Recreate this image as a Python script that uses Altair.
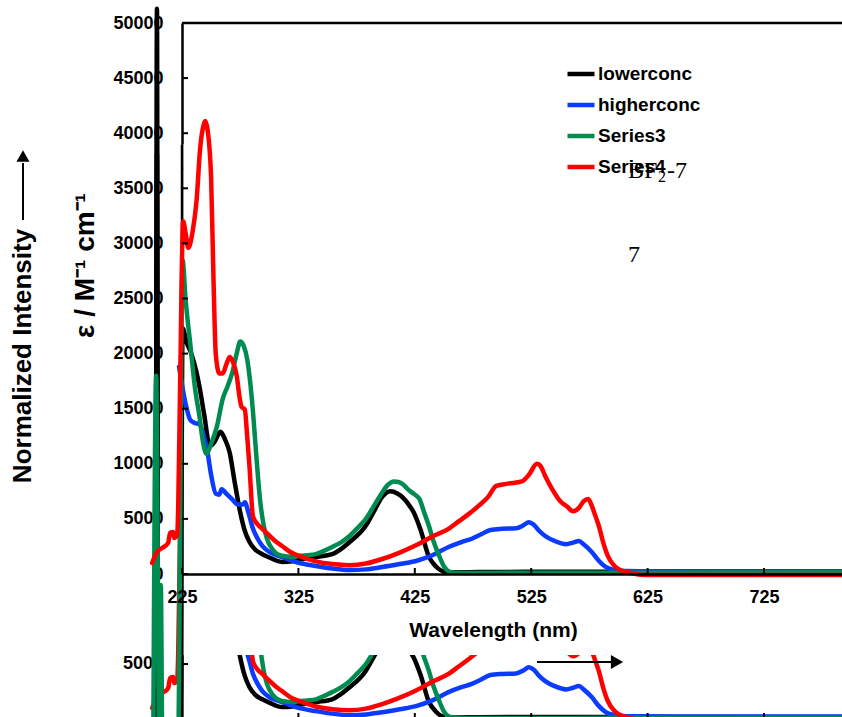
import altair as alt
import pandas as pd

# ---------------- data ----------------
series_names = ["lowerconc", "higherconc", "Series3", "Series4"]
series_colors = ["#000000", "#0A3BFF", "#008C50", "#FF0000"]

black_wl = [202.5, 203.5, 204.5, 223.5, 225.5, 229, 233, 237, 240, 244, 249, 253, 258, 262, 266, 270,
            275, 279, 283, 288, 294, 300, 311, 320, 326, 340, 354, 369, 383, 390, 397, 404, 410, 415,
            419, 424, 430, 437, 443, 451, 460, 480, 550, 650, 792]
black_v = [-16000, 51300, -16000, -16000, 22300, 21000, 20000, 18500, 17000, 14500, 11600, 12000, 12900,
           12200, 11000, 8500, 5600, 3900, 2900, 2200, 1800, 1500, 1100, 1150, 1300, 1550, 1800, 2900,
           4400, 5700, 7000, 7500, 7300, 6900, 6400, 5600, 4000, 1600, 700, 200, 150, 180, 200, 200, 200]

blue_wl = [222.5, 228, 232, 236, 240, 243, 247, 250, 254, 257, 259, 263, 268, 273, 277, 279, 282, 286,
           290, 294, 300, 311, 326, 340, 354, 369, 383, 397, 412, 426, 440, 454, 465, 474, 482, 490,
           500, 512, 518, 523, 527, 532, 537, 545, 555, 561, 566, 570, 577, 583, 589, 595, 606, 650, 792]
blue_v = [18800, 15500, 14000, 13700, 13600, 12800, 11000, 9000, 7300, 7200, 7700, 7300, 6800, 6300,
          6300, 6500, 5600, 4100, 3200, 2550, 2000, 1540, 1000, 730, 500, 360, 420, 630, 900, 1180,
          1700, 2450, 2900, 3200, 3600, 4000, 4100, 4150, 4400, 4700, 4500, 3900, 3450, 3000, 2700,
          2850, 3000, 2700, 2000, 1200, 640, 400, 270, 250, 250]

green_wl = [200.3, 202.8, 205.5, 206.8, 208.2, 221.5, 225.5, 228, 232, 236, 240, 243, 246, 250, 255, 260,
            264, 268, 272, 275, 278, 281, 284, 286, 289, 292, 295, 298, 303, 311, 320, 326, 333, 340,
            347, 354, 362, 369, 376, 383, 390, 397, 402, 407, 411, 414, 420, 425, 429, 433, 437, 441,
            446, 450, 454, 460, 480, 600, 792]
green_v = [-16000, 18000, -16000, -1000, -16000, -16000, 28500, 25000, 21000, 17000, 14300, 12000,
           10900, 11800, 13400, 15900, 17000, 18200, 20000, 21100, 20700, 19500, 17000, 14700, 10500,
           6800, 4500, 3200, 2200, 1650, 1550, 1650, 1700, 1800, 2100, 2450, 2900, 3450, 4200, 5000,
           6200, 7400, 8100, 8400, 8350, 8200, 7600, 7200, 6800, 5600, 4400, 3000, 1630, 700, 250,
           120, 100, 120, 150]

red_wl = [199.3, 203.6, 207.9, 213.1, 214.8, 217.4, 218.3, 220.8, 221.7, 223.5, 226, 228, 230.4, 234,
          237.6, 240.5, 243, 245, 247, 250, 252, 254, 257, 260, 263, 266, 269, 272, 274.5, 276, 279,
          281, 283, 286, 290, 294, 300, 305, 311, 318, 326, 340, 354, 369, 383, 397, 411, 426, 440,
          454, 463, 472, 480, 488, 495, 505, 517, 523, 530, 533, 537, 543, 550, 556, 561, 566, 570,
          574, 577, 580, 583, 587, 591, 596, 600, 610, 623, 792]
red_v = [1000, 2000, 2360, 2820, 3730, 3820, 3270, 3550, 5800, 18000, 32000, 31000, 29600, 31000,
         34000, 38500, 40500, 41100, 40300, 36000, 27000, 20000, 18200, 18200, 19000, 19700, 19200,
         18000, 16000, 15200, 14900, 12500, 9700, 5200, 4500, 4100, 3500, 3000, 2540, 2000, 1630, 1150,
         900, 800, 950, 1360, 1900, 2600, 3400, 4100, 4800, 5500, 6200, 7000, 8000, 8200, 8400, 9000,
         10000, 9800, 8900, 7700, 6600, 6100, 5700, 6000, 6600, 6800, 6200, 5300, 4400, 2800, 1600, 800,
         450, 100, -100, -100]

x_ticks = [225, 325, 425, 525, 625, 725]
y_ticks = [0, 5000, 10000, 15000, 20000, 25000, 30000, 35000, 40000, 45000, 50000]

rows = []
for name, wl, vals in zip(series_names,
                          [black_wl, blue_wl, green_wl, red_wl],
                          [black_v, blue_v, green_v, red_v]):
    for i, (a, b) in enumerate(zip(wl, vals)):
        rows.append({"series": name, "wl": a, "v": b, "i": i})
df = pd.DataFrame(rows)
xt = pd.DataFrame({"t": x_ticks})
yt = pd.DataFrame({"t": y_ticks})
one = pd.DataFrame({"a": [0]})

# ---------------- layout constants ----------------
W, H = 660, 551
SHIFT = 13170            # duplicated lower copy of the plot, 145 px lower
FONT = "Liberation Sans"

xs = alt.Scale(domain=[225, 792], nice=False, zero=False)
ys = alt.Scale(domain=[0, 50000], nice=False, zero=False)

xaxis = alt.Axis(values=x_ticks, title="Wavelength (nm)", ticks=False, labelPadding=14,
                 labelFlush=False, labelOverlap=False, grid=False, domainWidth=2.5,
                 domainColor="black", labelFont=FONT, labelFontWeight="bold", labelFontSize=18,
                 labelColor="black", titleFont=FONT, titleFontWeight="bold", titleFontSize=21,
                 titleColor="black", titleX=311, titleY=56, titleBaseline="middle",
                 titleAlign="center", zindex=1, format="d")
yaxis = alt.Axis(values=y_ticks, title="ε / M⁻¹ cm⁻¹", ticks=False, labelPadding=19,
                 grid=False, domainWidth=2.5, domainColor="black", labelFont=FONT,
                 labelFontWeight="bold", labelFontSize=18, labelColor="black",
                 labelBaseline="middle", titleFont=FONT, titleFontWeight="bold", titleFontSize=28,
                 titleColor="black", titleX=-97, titleY=242, titleBaseline="middle",
                 titleAlign="center", titleAngle=270, zindex=0, format="d")

color = alt.Color("series:N",
                  scale=alt.Scale(domain=series_names, range=series_colors),
                  legend=alt.Legend(title=None, orient="none", legendX=383, legendY=35,
                                    symbolType="stroke", symbolStrokeWidth=4.5, symbolSize=729,
                                    labelFont=FONT, labelFontWeight="bold", labelFontSize=19,
                                    labelColor="black", labelOffset=1, rowPadding=5))

X = alt.X("wl:Q", scale=xs, axis=xaxis)


def line_layer(name, copy=False):
    base = alt.Chart(df).transform_filter(alt.datum.series == name)
    if copy:
        base = base.transform_calculate(vc=f"datum.v - {SHIFT}")
        yenc = alt.Y("vc:Q", scale=ys, axis=yaxis)
    else:
        yenc = alt.Y("v:Q", scale=ys, axis=yaxis)
    return base.mark_line(strokeWidth=4.5, interpolate="monotone", strokeCap="round",
                          strokeJoin="round").encode(x=X, y=yenc, color=color, order="i:Q")


# lower duplicated copy
copy_lines = [line_layer(n, copy=True) for n in series_names]
copy_yaxis_line = alt.Chart(one).mark_rule(color="black", strokeWidth=2.5).encode(
    x=alt.value(0), y=alt.value(122), y2=alt.value(696))
copy_yticks = alt.Chart(yt).transform_calculate(tc=f"datum.t - {SHIFT}").mark_rule(
    color="black", strokeWidth=2).encode(y=alt.Y("tc:Q", scale=ys, axis=yaxis),
                                         x=alt.value(0), x2=alt.value(6))
copy_ylabels = alt.Chart(yt).transform_calculate(tc=f"datum.t - {SHIFT}").transform_filter(
    "datum.tc < -7000").mark_text(align="right", baseline="middle", font=FONT, fontWeight="bold",
                                  fontSize=18, color="black").encode(
    y=alt.Y("tc:Q", scale=ys, axis=yaxis), x=alt.value(-19), text="t:Q")
copy_xticks = alt.Chart(xt).mark_rule(color="black", strokeWidth=2).encode(
    x=alt.X("t:Q", scale=xs, axis=xaxis), y=alt.value(690), y2=alt.value(696))

mask = alt.Chart(one).mark_rect(color="white").encode(
    x=alt.value(1.5), x2=alt.value(668), y=alt.value(121), y2=alt.value(632))

# main plot
main_lines = [line_layer(n) for n in series_names]
frame_top = alt.Chart(one).mark_rule(color="black", strokeWidth=2.5).encode(
    x=alt.value(0), x2=alt.value(W + 5), y=alt.value(0))
yticks = alt.Chart(yt).mark_rule(color="black", strokeWidth=2).encode(
    y=alt.Y("t:Q", scale=ys, axis=yaxis), x=alt.value(0), x2=alt.value(6))
xticks = alt.Chart(xt).mark_rule(color="black", strokeWidth=2).encode(
    x=alt.X("t:Q", scale=xs, axis=xaxis), y=alt.value(H), y2=alt.value(H - 6))

norm_text = alt.Chart(one).mark_text(text="Normalized Intensity", angle=270, align="center",
                                     baseline="middle", font=FONT, fontWeight="bold",
                                     fontSize=26, color="black").encode(
    x=alt.value(-159), y=alt.value(333))
norm_shaft = alt.Chart(one).mark_rule(color="black", strokeWidth=2).encode(
    x=alt.value(-159), y=alt.value(197), y2=alt.value(140))
norm_head = alt.Chart(one).mark_point(shape="triangle-up", filled=True, color="black", size=170,
                                      opacity=1).encode(x=alt.value(-159), y=alt.value(133))

wl_shaft = alt.Chart(one).mark_rule(color="black", strokeWidth=2).encode(
    x=alt.value(355), x2=alt.value(430), y=alt.value(639))
wl_head = alt.Chart(one).mark_point(shape="triangle-right", filled=True, color="black", size=200,
                                    opacity=1).encode(x=alt.value(435), y=alt.value(639))

serif = "Liberation Serif"
bf_text = alt.Chart(one).mark_text(text="BF", align="left", baseline="alphabetic", font=serif,
                                   fontSize=24, color="black").encode(
    x=alt.value(446), y=alt.value(155))
bf_sub = alt.Chart(one).mark_text(text="2", align="left", baseline="alphabetic", font=serif,
                                  fontSize=16, color="black").encode(
    x=alt.value(476), y=alt.value(159))
bf_tail = alt.Chart(one).mark_text(text="-7", align="left", baseline="alphabetic", font=serif,
                                   fontSize=24, color="black").encode(
    x=alt.value(485), y=alt.value(155))
seven = alt.Chart(one).mark_text(text="7", align="left", baseline="alphabetic", font=serif,
                                 fontSize=24, color="black").encode(
    x=alt.value(446), y=alt.value(239))

chart = alt.layer(
    *copy_lines, copy_yaxis_line, copy_yticks, copy_ylabels, copy_xticks,
    mask,
    *main_lines, frame_top, yticks, xticks,
    norm_text, norm_shaft, norm_head, wl_shaft, wl_head,
    bf_text, bf_sub, bf_tail, seven,
).properties(
    width=W, height=H,
    autosize=alt.AutoSizeParams(type="none"),
    padding={"left": 182, "top": 23, "right": 0, "bottom": 143},
    background="white",
).configure_view(stroke=None)

chart.save("out.html", embed_options={"renderer": "svg", "actions": False})
